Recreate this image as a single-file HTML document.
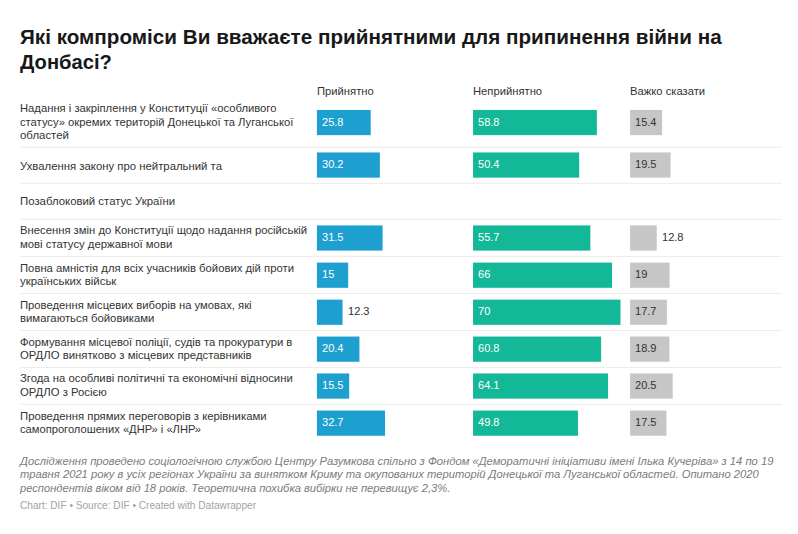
<!DOCTYPE html>
<html lang="uk">
<head>
<meta charset="utf-8">
<title>Які компроміси Ви вважаєте прийнятними для припинення війни на Донбасі?</title>
<style>
html,body{margin:0;padding:0;background:#fff;}
body{width:798px;height:534px;position:relative;overflow:hidden;font-family:"Liberation Sans",Arial,sans-serif;color:#333;}
svg.g{position:absolute;left:0;top:0;}
h1{position:absolute;left:20px;top:25.3px;margin:0;font-size:19.5px;line-height:24.5px;font-weight:bold;color:#181818;white-space:nowrap;transform:scaleX(1.0595);transform-origin:0 0;}
h1 span{display:inline-block;transform:scaleX(0.975);transform-origin:0 0;}
.hd{position:absolute;top:84.0px;font-size:11.4px;line-height:14px;color:#333;white-space:nowrap;transform:scaleX(0.986);transform-origin:0 0;}
.lab{position:absolute;left:20.2px;font-size:11.4px;line-height:13.6px;color:#333;white-space:nowrap;}
.lab span{display:inline-block;transform-origin:0 0;}
.val{position:absolute;font-size:11.4px;line-height:14px;white-space:nowrap;transform:scaleX(0.97);transform-origin:0 0;}
.note{position:absolute;left:20px;top:454.8px;font-size:11.4px;line-height:13.55px;font-style:italic;color:#7b7b7b;white-space:nowrap;transform:scaleX(0.986);transform-origin:0 0;}
.note span{display:inline-block;transform-origin:0 0;}
.by{position:absolute;left:20px;top:499.2px;font-size:10.4px;line-height:14px;color:#a2a2a2;white-space:nowrap;transform:scaleX(0.972);transform-origin:0 0;}
</style>
</head>
<body>
<svg class="g" width="798" height="534" viewBox="0 0 798 534">
<rect x="20" y="146.70" width="762" height="1" fill="#ececec"/>
<rect x="20" y="182.80" width="762" height="1" fill="#ececec"/>
<rect x="20" y="218.80" width="762" height="1" fill="#ececec"/>
<rect x="20" y="255.90" width="762" height="1" fill="#ececec"/>
<rect x="20" y="293.00" width="762" height="1" fill="#ececec"/>
<rect x="20" y="330.00" width="762" height="1" fill="#ececec"/>
<rect x="20" y="366.90" width="762" height="1" fill="#ececec"/>
<rect x="20" y="403.80" width="762" height="1" fill="#ececec"/>
<rect x="316.90" y="109.95" width="53.79" height="25.2" fill="#1d9fd0"/>
<rect x="473.05" y="109.95" width="123.83" height="25.2" fill="#12b898"/>
<rect x="630.10" y="109.95" width="32.00" height="25.2" fill="#c6c6c6"/>
<rect x="316.90" y="152.45" width="62.97" height="25.2" fill="#1d9fd0"/>
<rect x="473.05" y="152.45" width="106.14" height="25.2" fill="#12b898"/>
<rect x="630.10" y="152.45" width="40.52" height="25.2" fill="#c6c6c6"/>
<rect x="316.90" y="225.40" width="65.68" height="25.2" fill="#1d9fd0"/>
<rect x="473.05" y="225.40" width="117.30" height="25.2" fill="#12b898"/>
<rect x="630.10" y="225.40" width="26.60" height="25.2" fill="#c6c6c6"/>
<rect x="316.90" y="262.60" width="31.27" height="25.2" fill="#1d9fd0"/>
<rect x="473.05" y="262.60" width="139.00" height="25.2" fill="#12b898"/>
<rect x="630.10" y="262.60" width="39.48" height="25.2" fill="#c6c6c6"/>
<rect x="316.90" y="299.65" width="25.65" height="25.2" fill="#1d9fd0"/>
<rect x="473.05" y="299.65" width="147.42" height="25.2" fill="#12b898"/>
<rect x="630.10" y="299.65" width="36.78" height="25.2" fill="#c6c6c6"/>
<rect x="316.90" y="336.55" width="42.53" height="25.2" fill="#1d9fd0"/>
<rect x="473.05" y="336.55" width="128.04" height="25.2" fill="#12b898"/>
<rect x="630.10" y="336.55" width="39.27" height="25.2" fill="#c6c6c6"/>
<rect x="316.90" y="373.45" width="32.32" height="25.2" fill="#1d9fd0"/>
<rect x="473.05" y="373.45" width="134.99" height="25.2" fill="#12b898"/>
<rect x="630.10" y="373.45" width="42.60" height="25.2" fill="#c6c6c6"/>
<rect x="316.90" y="410.55" width="68.18" height="25.2" fill="#1d9fd0"/>
<rect x="473.05" y="410.55" width="104.88" height="25.2" fill="#12b898"/>
<rect x="630.10" y="410.55" width="36.36" height="25.2" fill="#c6c6c6"/>
</svg>
<h1>Які компроміси Ви вважаєте прийнятними для припинення війни на<br><span>Донбасі?</span></h1>
<div class="hd" style="left:316.9px">Прийнятно</div>
<div class="hd" style="left:473px">Неприйнятно</div>
<div class="hd" style="left:630px">Важко сказати</div>
<div class="lab" style="top:102.15px"><span style="transform:scaleX(0.9872)">Надання і закріплення у Конституції «особливого</span><br><span style="transform:scaleX(0.9849)">статусу» окремих територій Донецької та Луганської</span><br><span style="transform:scaleX(1.0025)">областей</span></div>
<div class="val" style="left:321.50px;top:114.75px;color:#fff">25.8</div>
<div class="val" style="left:477.65px;top:114.75px;color:#fff">58.8</div>
<div class="val" style="left:634.70px;top:114.75px;color:#333">15.4</div>
<div class="lab" style="top:160.25px"><span style="transform:scaleX(0.9959)">Ухвалення закону про нейтральний та</span></div>
<div class="val" style="left:321.50px;top:157.25px;color:#fff">30.2</div>
<div class="val" style="left:477.65px;top:157.25px;color:#fff">50.4</div>
<div class="val" style="left:634.70px;top:157.25px;color:#333">19.5</div>
<div class="lab" style="top:194.50px"><span style="transform:scaleX(0.9989)">Позаблоковий статус України</span></div>
<div class="lab" style="top:224.40px"><span style="transform:scaleX(0.9898)">Внесення змін до Конституції щодо надання російській</span><br><span style="transform:scaleX(0.9945)">мові статусу державної мови</span></div>
<div class="val" style="left:321.50px;top:230.20px;color:#fff">31.5</div>
<div class="val" style="left:477.65px;top:230.20px;color:#fff">55.7</div>
<div class="val" style="left:661.80px;top:230.20px;color:#333">12.8</div>
<div class="lab" style="top:261.60px"><span style="transform:scaleX(0.9907)">Повна амністія для всіх учасників бойових дій проти</span><br><span style="transform:scaleX(1.0016)">українських військ</span></div>
<div class="val" style="left:321.50px;top:267.40px;color:#fff">15</div>
<div class="val" style="left:477.65px;top:267.40px;color:#fff">66</div>
<div class="val" style="left:634.70px;top:267.40px;color:#333">19</div>
<div class="lab" style="top:298.65px"><span style="transform:scaleX(0.9867)">Проведення місцевих виборів на умовах, які</span><br><span style="transform:scaleX(0.9957)">вимагаються бойовиками</span></div>
<div class="val" style="left:347.65px;top:304.45px;color:#333">12.3</div>
<div class="val" style="left:477.65px;top:304.45px;color:#fff">70</div>
<div class="val" style="left:634.70px;top:304.45px;color:#333">17.7</div>
<div class="lab" style="top:335.55px"><span style="transform:scaleX(0.9893)">Формування місцевої поліції, судів та прокуратури в</span><br><span style="transform:scaleX(0.9942)">ОРДЛО винятково з місцевих представників</span></div>
<div class="val" style="left:321.50px;top:341.35px;color:#fff">20.4</div>
<div class="val" style="left:477.65px;top:341.35px;color:#fff">60.8</div>
<div class="val" style="left:634.70px;top:341.35px;color:#333">18.9</div>
<div class="lab" style="top:372.45px"><span style="transform:scaleX(0.9922)">Згода на особливі політичні та економічні відносини</span><br><span style="transform:scaleX(0.9941)">ОРДЛО з Росією</span></div>
<div class="val" style="left:321.50px;top:378.25px;color:#fff">15.5</div>
<div class="val" style="left:477.65px;top:378.25px;color:#fff">64.1</div>
<div class="val" style="left:634.70px;top:378.25px;color:#333">20.5</div>
<div class="lab" style="top:409.55px"><span style="transform:scaleX(0.9929)">Проведення прямих переговорів з керівниками</span><br><span style="transform:scaleX(0.9789)">самопроголошених «ДНР» і «ЛНР»</span></div>
<div class="val" style="left:321.50px;top:415.35px;color:#fff">32.7</div>
<div class="val" style="left:477.65px;top:415.35px;color:#fff">49.8</div>
<div class="val" style="left:634.70px;top:415.35px;color:#333">17.5</div>
<div class="note"><span style="transform:scaleX(0.9983)">Дослідження проведено соціологічною службою Центру Разумкова спільно з Фондом «Деморатичні ініціативи імені Ілька Кучеріва» з 14 по 19</span><br><span>травня 2021 року в усіх регіонах України за винятком Криму та окупованих територій Донецької та Луганської областей. Опитано 2020</span><br><span style="transform:scaleX(0.9935)">респондентів віком від 18 років. Теоретична похибка вибірки не перевищує 2,3%.</span></div>
<div class="by">Chart: DIF • Source: DIF • Created with Datawrapper</div>
</body>
</html>
